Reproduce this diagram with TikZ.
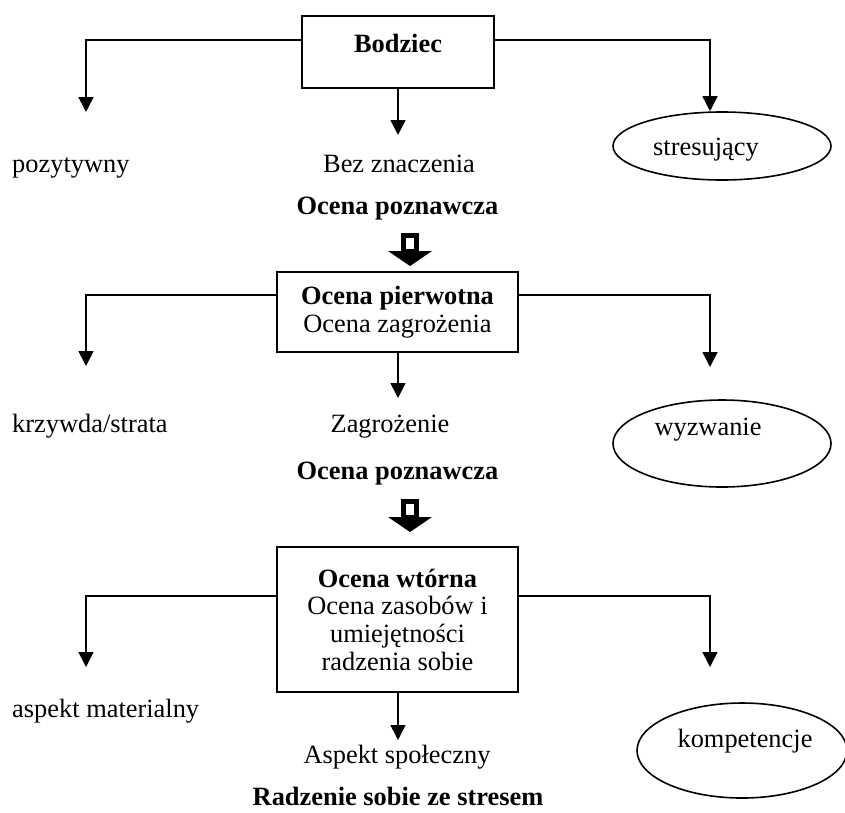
\documentclass[tikz,border=0pt]{standalone}
\usepackage{fontspec}
\setmainfont{Liberation Serif}
\usetikzlibrary{arrows.meta, shapes.geometric}
\newcommand{\hollowdown}[2]{%
    \begin{scope}[shift={(#1,#2)}]
        \draw[line width=5pt, fill=white] (-6.5,2.5) rectangle (6.5,18);
        \fill (-22,18) -- (22,18) -- (0,33) -- cycle;
    \end{scope}}

\begin{document}
\begin{tikzpicture}[
        x=1pt,
        y=-1pt,
        every node/.style={font=\fontsize{26.4}{27.7}\selectfont, inner sep=0pt},
        box/.style={draw, line width=2pt, align=center},
        oval/.style={draw, ellipse, line width=1.6pt},
        bold/.style={font=\fontsize{26.4}{27.7}\selectfont\bfseries},
        arr/.style={-{Triangle[width=15pt, length=15pt]}, line width=1.6pt}
    ]
    \useasboundingbox (0,0) rectangle (845,812);

    % Bodziec
    \node[box, minimum width=192pt, minimum height=72pt,
        text height=18pt, text depth=18pt] (bod) at (398,52) {\bfseries Bodziec};
    \node[anchor=base west] (poz) at (12,172) {pozytywny};
    \node[anchor=base] (bez) at (399,172) {Bez znaczenia};
    \node[oval, minimum width=218pt, minimum height=68pt] (e1) at (722,146) {};
    \node[anchor=base] (stres) at (706,155) {stresujący};
    \coordinate (l1) at (86,40);
    \coordinate (r1) at (710,40);
    \coordinate (l1e) at (86,112);
    \coordinate (m1e) at (398,135);
    \draw[arr] (bod.west |- l1) -- (l1) -- (l1e);
    \draw[arr] (bod.south) -- (m1e);
    \draw[arr] (bod.east |- r1) -- (r1) -- (e1.north -| r1);

    \node[bold, anchor=base] (oc1) at (397.5,214) {Ocena poznawcza};
    \hollowdown{410}{233}

    % Ocena pierwotna
    \node[box, minimum width=241pt, minimum height=80pt] (pierw) at (397.5,312)
        {\textbf{Ocena pierwotna}\\Ocena zagrożenia};
    \node[anchor=base west] (krz) at (12,432) {krzywda/strata};
    \node[anchor=base] (zag) at (390,432) {Zagrożenie};
    \node[oval, minimum width=218pt, minimum height=87pt] (e2) at (722,443.5) {};
    \node[anchor=base] (wyz) at (708,435) {wyzwanie};
    \coordinate (l2) at (86,295);
    \coordinate (r2) at (710,295);
    \coordinate (l2e) at (86,366);
    \coordinate (r2e) at (710,367);
    \coordinate (m2e) at (398,398);
    \draw[arr] (pierw.west |- l2) -- (l2) -- (l2e);
    \draw[arr] (pierw.south -| m2e) -- (m2e);
    \draw[arr] (pierw.east |- r2) -- (r2) -- (r2e);

    \node[bold, anchor=base] (oc2) at (397.5,479) {Ocena poznawcza};
    \hollowdown{410}{499}

    % Ocena wtorna
    \node[box, minimum width=241pt, minimum height=145pt] (wtor) at (397.5,619.5)
        {\textbf{Ocena wtórna}\\Ocena zasobów i\\umiejętności\\radzenia sobie};
    \node[anchor=base west] (mat) at (12,717) {aspekt materialny};
    \node[anchor=base] (spol) at (397,763) {Aspekt społeczny};
    \node[oval, minimum width=210pt, minimum height=95pt] (e3) at (742,750.5) {};
    \node[anchor=base] (komp) at (745,747) {kompetencje};
    \coordinate (l3) at (86,596);
    \coordinate (r3) at (710,596);
    \coordinate (l3e) at (86,667);
    \coordinate (r3e) at (710,667);
    \coordinate (m3e) at (398,740);
    \draw[arr] (wtor.west |- l3) -- (l3) -- (l3e);
    \draw[arr] (wtor.south -| m3e) -- (m3e);
    \draw[arr] (wtor.east |- r3) -- (r3) -- (r3e);

    \node[bold, anchor=base] (rad) at (398,805) {Radzenie sobie ze stresem};
\end{tikzpicture}
\end{document}
